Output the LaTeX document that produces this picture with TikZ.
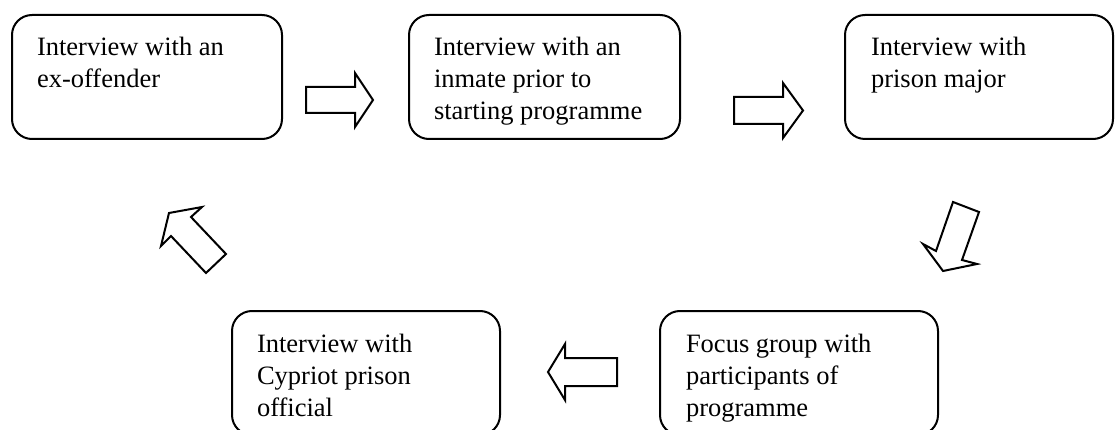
\documentclass[tikz,border=0pt]{standalone}
\usepackage{fontspec}
\setmainfont{Liberation Serif}
\begin{document}
\begin{tikzpicture}[x=1pt,y=-1pt,
  stagebox/.style={draw=black,line width=2pt,rounded corners=20pt,fill=white,
    minimum height=124pt,inner sep=0pt,anchor=north west},
  blockarrow/.style={draw=black,line width=2pt,fill=white,line join=miter}]
\useasboundingbox (0,0) rectangle (1115,430);
\newcommand{\boxtext}[2]{\begin{minipage}[t][124pt][t]{#1pt}\raggedright\fontsize{26.5}{32}\selectfont\rule{0pt}{41pt}#2\end{minipage}}
\node[stagebox,minimum width=270pt] (b1) at (11,14) {\hspace*{25pt}\boxtext{245}{Interview with an\\ex-offender}};
\node[stagebox,minimum width=271pt] (b2) at (408,14) {\hspace*{25pt}\boxtext{246}{Interview with an\\inmate prior to\\starting programme}};
\node[stagebox,minimum width=268pt] (b3) at (844,14) {\hspace*{26pt}\boxtext{242}{Interview with\\prison major}};
\node[stagebox,minimum width=278pt] (b4) at (659,310) {\hspace*{26pt}\boxtext{252}{Focus group with\\participants of\\programme}};
\node[stagebox,minimum width=268pt] (b5) at (231,310) {\hspace*{25pt}\boxtext{243}{Interview with\\Cypriot prison\\official}};
% block arrows
\draw[blockarrow] (306,87) -- (355,87) -- (355,73) -- (373,100) -- (355,127) -- (355,113) -- (306,113) -- cycle;
\draw[blockarrow] (734,97) -- (783,97) -- (783,83) -- (803,110.5) -- (783,138) -- (783,124) -- (734,124) -- cycle;
\draw[blockarrow] (953,202) -- (979,212) -- (962,260) -- (977,264) -- (943,271) -- (923,244) -- (936,251) -- cycle;
\draw[blockarrow] (617,358) -- (565,358) -- (565,344) -- (548,372) -- (565,400) -- (565,386) -- (617,386) -- cycle;
\draw[blockarrow] (169,213) -- (202,207) -- (191,217) -- (226,254) -- (206,273) -- (171,236) -- (161,246) -- cycle;
\end{tikzpicture}
\end{document}
